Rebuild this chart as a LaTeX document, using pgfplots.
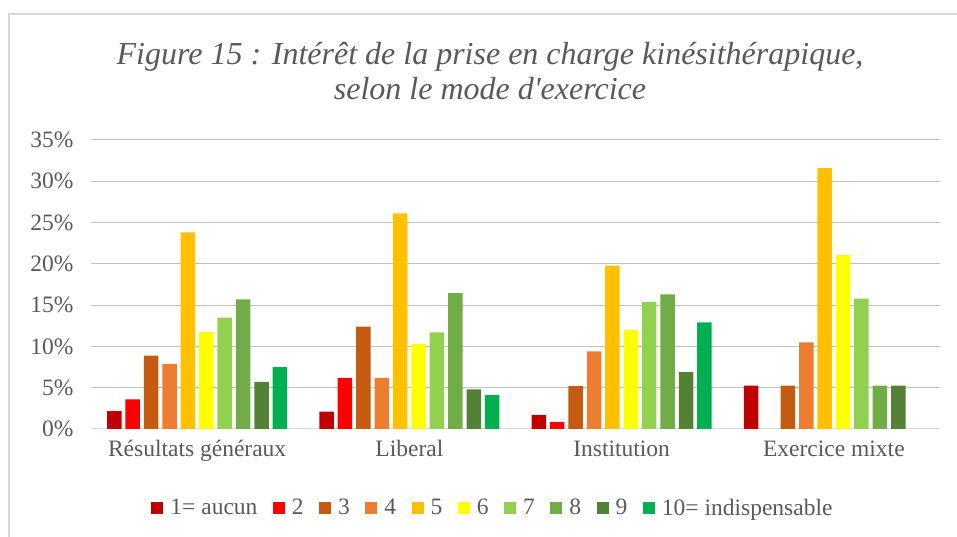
\documentclass[border=0pt]{standalone}
\usepackage{pgfplots}
\pgfplotsset{compat=1.18}
\usepackage{fontspec}
\setmainfont{Liberation Serif}
\newfontfamily\titlefont{Liberation Serif}[Ligatures=TeXOff]
\definecolor{txt}{HTML}{595959}
\definecolor{grid}{HTML}{D9D9D9}
\definecolor{c1}{HTML}{C00000}
\definecolor{c2}{HTML}{FF0000}
\definecolor{c3}{HTML}{C55A11}
\definecolor{c4}{HTML}{ED7D31}
\definecolor{c5}{HTML}{FFC000}
\definecolor{c6}{HTML}{FFFF00}
\definecolor{c7}{HTML}{92D050}
\definecolor{c8}{HTML}{70AD47}
\definecolor{c9}{HTML}{548235}
\definecolor{c10}{HTML}{00B050}
\begin{document}
\begin{tikzpicture}[x=1pt,y=1pt]
\useasboundingbox (0,0) rectangle (957,537);
\draw[grid, line width=1.5pt] (9,0) -- (9,523) -- (957,523);
\node[anchor=base, text=txt, font=\fontsize{32}{38}\selectfont\titlefont\itshape] at (490,472) {Figure 15 : Intérêt de la prise en charge kinésithérapique,};
\node[anchor=base, text=txt, font=\fontsize{32}{38}\selectfont\titlefont\itshape] at (490,437) {selon le mode d'exercice};
\begin{axis}[
  at={(91pt,108pt)}, anchor=south west,
  width=849pt, height=289pt, scale only axis,
  xmin=-0.5, xmax=3.5, ymin=0, ymax=35,
  ybar=3.9pt, bar width=14.5pt,
  xtick={0,1,2,3},
  xticklabels={Résultats généraux,Liberal,Institution,Exercice mixte},
  ytick={0,5,...,35},
  yticklabel={\pgfmathprintnumber{\tick}\%},
  /pgf/number format/assume math mode=true,
  xmajorgrids=false, ymajorgrids, grid style={grid, line width=1pt},
  axis x line*=bottom, axis y line*=left,
  x axis line style={grid, line width=1pt, -},
  y axis line style={draw=none},
  major tick length=0pt,
  tick label style={text=txt, font=\fontsize{23.5}{26}\selectfont},
  yticklabel style={xshift=-14pt},
  xticklabel style={yshift=-8pt},
  legend columns=10,
  legend style={at={(0.4735,-0.273)}, anchor=center, draw=none, fill=none,
    text=txt, font=\fontsize{23.5}{26}\selectfont,
    /tikz/every even column/.append style={column sep=13.5pt}},
  legend image code/.code={\fill[#1] (0pt,-6pt) rectangle (12pt,6pt); \path (17pt,0pt);},
]
\addplot[fill=c1, draw=none] coordinates {(0,2.15) (1,2.1) (2,1.7) (3,5.26)};
\addplot[fill=c2, draw=none] coordinates {(0,3.6) (1,6.2) (2,0.85)};
\addplot[fill=c3, draw=none] coordinates {(0,8.9) (1,12.4) (2,5.2) (3,5.26)};
\addplot[fill=c4, draw=none] coordinates {(0,7.9) (1,6.2) (2,9.4) (3,10.5)};
\addplot[fill=c5, draw=none] coordinates {(0,23.8) (1,26.1) (2,19.8) (3,31.6)};
\addplot[fill=c6, draw=none] coordinates {(0,11.75) (1,10.3) (2,12.0) (3,21.05)};
\addplot[fill=c7, draw=none] coordinates {(0,13.5) (1,11.7) (2,15.4) (3,15.8)};
\addplot[fill=c8, draw=none] coordinates {(0,15.7) (1,16.45) (2,16.3) (3,5.26)};
\addplot[fill=c9, draw=none] coordinates {(0,5.7) (1,4.8) (2,6.9) (3,5.26)};
\addplot[fill=c10, draw=none] coordinates {(0,7.5) (1,4.1) (2,12.9)};
\legend{1= aucun,2,3,4,5,6,7,8,9,10= indispensable}
\end{axis}
\end{tikzpicture}
\end{document}
